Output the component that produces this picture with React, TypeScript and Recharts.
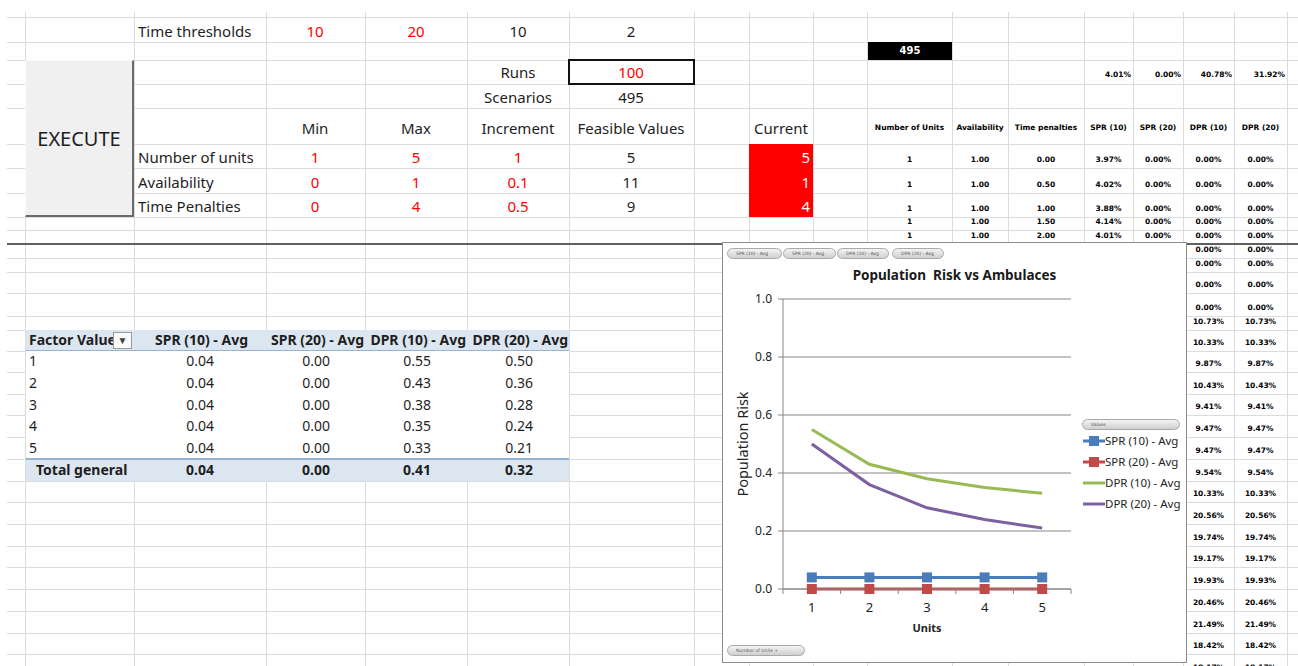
import React from "react";
import { CartesianGrid, Legend, Line, LineChart, XAxis, YAxis } from "recharts";

// chart / pivot values
const units = [1, 2, 3, 4, 5];
const spr10Avg = [0.04, 0.04, 0.04, 0.04, 0.04];
const spr20Avg = [0.0, 0.0, 0.0, 0.0, 0.0];
const dpr10Avg = [0.55, 0.43, 0.38, 0.35, 0.33];
const dpr20Avg = [0.5, 0.36, 0.28, 0.24, 0.21];
const totalGeneral = [0.04, 0.0, 0.41, 0.32];
const seriesNames = ["SPR (10) - Avg", "SPR (20) - Avg", "DPR (10) - Avg", "DPR (20) - Avg"];
const yTicks = [0, 0.2, 0.4, 0.6, 0.8, 1.0];

// input block
const thresholds = ["10", "20", "10", "2"];
const paramNames = ["Number of units", "Availability", "Time Penalties"];
const paramMin = ["1", "0", "0"];
const paramMax = ["5", "1", "4"];
const paramInc = ["1", "0.1", "0.5"];
const feasible = ["5", "11", "9"];
const current = ["5", "1", "4"];

// results table on the right
const rHeaders = ["Number of Units", "Availability", "Time penalties", "SPR (10)", "SPR (20)", "DPR (10)", "DPR (20)"];
const rTotals = ["4.01%", "0.00%", "40.78%", "31.92%"];
const rUnits = ["1", "1", "1", "1", "1"];
const rAvail = ["1.00", "1.00", "1.00", "1.00", "1.00"];
const rPenalty = ["0.00", "0.50", "1.00", "1.50", "2.00"];
const rSpr10 = ["3.97%", "4.02%", "3.88%", "4.14%", "4.01%"];
const rSpr20 = ["0.00%", "0.00%", "0.00%", "0.00%", "0.00%"];
const rDpr = ["0.00%", "0.00%", "0.00%", "0.00%", "0.00%"];
const rDprLower = ["0.00%", "0.00%", "0.00%", "0.00%", "10.73%", "10.33%", "9.87%", "10.43%", "9.41%", "9.47%", "9.47%", "9.54%", "10.33%", "20.56%", "19.74%", "19.17%", "19.93%", "20.46%", "21.49%", "18.42%", "18.17%"];

const colLines = [25, 134, 266, 365, 467, 569, 694, 749, 813, 867, 952, 1008, 1084, 1133, 1183, 1234, 1287];
const rowLines = [17, 42, 60, 84, 108, 144, 168, 193, 217, 230, 258, 272, 293, 316, 330, 351, 372, 394, 415, 437, 459, 481, 502, 524, 546, 567, 589, 611, 633, 654, 676];
const rCols = [[867, 952], [952, 1008], [1008, 1084], [1084, 1133], [1133, 1183], [1183, 1234], [1234, 1287]];

const MAIN = '"Noto Sans", "Open Sans", sans-serif';
const TINY = '"DejaVu Sans", sans-serif';
const INK = "#1e1e1e";
const RED = "#ff0000";
const AXIS = "#868686";
const colors = ["#4a7ebb", "#be4b48", "#98b954", "#7d60a0"];
const keys = ["spr10", "spr20", "dpr10", "dpr20"];
const markerKeys = ["spr10", "spr20"];

const chartData = units.map((u, i) => ({
  unit: u,
  spr10: spr10Avg[i],
  spr20: spr20Avg[i],
  dpr10: dpr10Avg[i],
  dpr20: dpr20Avg[i],
}));

type TProps = {
  x: number;
  cy: number;
  text: string;
  align?: "left" | "center" | "right";
  color?: string;
  size?: number;
  bold?: boolean;
  font?: string;
};

const T = ({ x, cy, text, align = "left", color = INK, size = 15, bold = false, font = MAIN }: TProps) => {
  const left = align === "left" ? x : align === "center" ? x - 150 : x - 300;
  return (
    <div
      style={{
        position: "absolute",
        left,
        top: cy - 12,
        width: align === "left" ? undefined : 300,
        height: 24,
        lineHeight: "24px",
        textAlign: align,
        color,
        fontSize: size,
        fontWeight: bold ? 700 : 400,
        fontFamily: font,
        whiteSpace: "nowrap",
      }}
    >
      {text}
    </div>
  );
};

const squareDot = (color: string) => (props: any) => {
  const { cx, cy, index } = props;
  return <rect key={"d" + index} x={cx - 5} y={cy - 5} width={10} height={10} fill={color} />;
};

const UnitTick = (props: any) => {
  const { x, y, payload, width, visibleTicksCount, index } = props;
  const n = visibleTicksCount || units.length;
  const half = (width || 288) / n / 2;
  return (
    <g>
      <line x1={x - half} x2={x - half} y1={y} y2={y + 5} stroke={AXIS} />
      {index === n - 1 && <line x1={x + half} x2={x + half} y1={y} y2={y + 5} stroke={AXIS} />}
      <text x={x} y={y + 18} textAnchor="middle" dominantBaseline="central" fontSize={13} fill="#222" fontFamily={MAIN}>
        {payload.value}
      </text>
    </g>
  );
};

const pill = (left: number, top: number, width: number, text: string) => (
  <div
    key={text + left}
    style={{
      position: "absolute",
      left,
      top,
      width,
      height: 11,
      borderRadius: 6,
      border: "1px solid #a9a9a9",
      background: "linear-gradient(#f4f4f4, #cfcfcf)",
      boxSizing: "border-box",
      fontSize: 4.5,
      lineHeight: "9px",
      color: "#555",
      fontFamily: TINY,
      paddingLeft: 8,
      whiteSpace: "nowrap",
      overflow: "hidden",
    }}
  >
    {text}
  </div>
);

const renderLegend = (props: any) => {
  const payload = props.payload || [];
  return (
    <div style={{ paddingLeft: 11, textAlign: "left", fontFamily: MAIN }}>
      <div style={{ position: "relative", height: 11 }}>{pill(0, 0, 98, "Values")}</div>
      {payload.map((entry: any) => (
        <div key={entry.value} style={{ height: 21, display: "flex", alignItems: "center" }}>
          <svg width={22} height={12} style={{ marginLeft: 1 }}>
            <line x1={0} x2={22} y1={6} y2={6} stroke={entry.color} strokeWidth={3} />
            {markerKeys.includes(entry.dataKey) && <rect x={6} y={1} width={10} height={10} fill={entry.color} />}
          </svg>
          <span style={{ fontSize: 11.5, color: INK, whiteSpace: "nowrap" }}>{entry.value}</span>
        </div>
      ))}
    </div>
  );
};

const Chart = () => (
  <div
    style={{
      position: "absolute",
      left: 722,
      top: 242,
      width: 465,
      height: 421,
      border: "1px solid #8d8d8d",
      boxSizing: "border-box",
      background: "#fff",
    }}
  >
    <LineChart width={463} height={419} data={chartData} margin={{ top: 56, right: 5, bottom: 43, left: 30 }}>
      <CartesianGrid vertical={false} stroke={AXIS} />
      <XAxis
        dataKey="unit"
        scale="band"
        height={30}
        interval={0}
        axisLine={{ stroke: AXIS }}
        tickLine={false}
        tickSize={0}
        tickMargin={0}
        tick={<UnitTick />}
        label={(p: any) => {
          const vb = p.viewBox;
          return (
            <text x={vb.x + vb.width / 2} y={vb.y + 38} textAnchor="middle" dominantBaseline="central" fontSize={11} fontWeight={700} fill="#222" fontFamily={MAIN}>
              Units
            </text>
          );
        }}
      />
      <YAxis
        width={30}
        domain={[0, 1]}
        ticks={yTicks}
        interval={0}
        tickFormatter={(v: number) => v.toFixed(1)}
        axisLine={{ stroke: AXIS }}
        tickLine={{ stroke: AXIS }}
        tickSize={5}
        tickMargin={6}
        tick={{ fill: "#222", fontSize: 12, fontFamily: MAIN }}
        label={(p: any) => {
          const vb = p.viewBox;
          const cx = vb.x - 11;
          const cy = vb.y + vb.height / 2;
          return (
            <text x={cx} y={cy} textAnchor="middle" dominantBaseline="central" fontSize={14.5} fill="#222" fontFamily={MAIN} transform={`rotate(-90, ${cx}, ${cy})`}>
              Population Risk
            </text>
          );
        }}
      />
      <Legend
        layout="vertical"
        align="right"
        verticalAlign="top"
        width={110}
        content={renderLegend}
        itemSorter={(item: any) => keys.indexOf(item.dataKey)}
        wrapperStyle={{ top: 176 }}
      />
      {keys.map((k, i) => (
        <Line
          key={k}
          type="linear"
          dataKey={k}
          name={seriesNames[i]}
          stroke={colors[i]}
          strokeWidth={3}
          dot={markerKeys.includes(k) ? squareDot(colors[i]) : false}
          activeDot={false}
          isAnimationActive={false}
        />
      ))}
    </LineChart>
    <div
      style={{
        position: "absolute",
        left: 0,
        top: 20,
        width: 463,
        height: 24,
        lineHeight: "24px",
        textAlign: "center",
        fontFamily: MAIN,
        fontWeight: 700,
        fontSize: 13.5,
        color: "#1a1a1a",
        whiteSpace: "pre",
      }}
    >
      {"Population  Risk vs Ambulaces"}
    </div>
    {pill(4, 5, 55, seriesNames[0])}
    {pill(60, 5, 53, seriesNames[1])}
    {pill(114, 5, 52, seriesNames[2])}
    {pill(169, 5, 52, seriesNames[3])}
    {pill(4, 402, 78, "Number of Units  +")}
  </div>
);

const Grid = () => (
  <>
    {colLines.map((x) => (
      <div key={"c" + x} style={{ position: "absolute", left: x, top: 12, width: 1, height: 654, background: "#dadcdd" }} />
    ))}
    {rowLines.map((y) => (
      <div key={"r" + y} style={{ position: "absolute", left: 7, top: y, width: 1291, height: 1, background: "#dadcdd" }} />
    ))}
    <div style={{ position: "absolute", left: 7, top: 243, width: 1291, height: 2, background: "#5f5f5f" }} />
  </>
);

const InputBlock = () => (
  <>
    <T x={138} cy={31} text="Time thresholds" />
    {thresholds.map((t, i) => (
      <T key={"th" + i} x={[315, 416, 518, 631][i]} cy={31} text={t} align="center" color={i < 2 ? RED : INK} />
    ))}
    <div style={{ position: "absolute", left: 568, top: 59, width: 127, height: 26, border: "2px solid #111", boxSizing: "border-box" }} />
    <T x={518} cy={72} text="Runs" align="center" />
    <T x={631} cy={72} text="100" align="center" color={RED} />
    <T x={518} cy={97} text="Scenarios" align="center" />
    <T x={631} cy={97} text="495" align="center" />
    {["Min", "Max", "Increment", "Feasible Values", "Current"].map((h, i) => (
      <T key={h} x={[315, 416, 518, 631, 781][i]} cy={128} text={h} align="center" />
    ))}
    <div style={{ position: "absolute", left: 749, top: 144, width: 64, height: 73, background: RED }} />
    {paramNames.map((name, i) => {
      const cy = [157, 182, 206][i];
      return (
        <React.Fragment key={name}>
          <T x={138} cy={cy} text={name} />
          <T x={315} cy={cy} text={paramMin[i]} align="center" color={RED} />
          <T x={416} cy={cy} text={paramMax[i]} align="center" color={RED} />
          <T x={518} cy={cy} text={paramInc[i]} align="center" color={RED} />
          <T x={631} cy={cy} text={feasible[i]} align="center" />
          <T x={810} cy={cy} text={current[i]} align="right" color="#fff" />
        </React.Fragment>
      );
    })}
    <div
      style={{
        position: "absolute",
        left: 25,
        top: 60,
        width: 109,
        height: 157,
        background: "#f0f0f0",
        borderTop: "1px solid #fafafa",
        borderLeft: "1px solid #fafafa",
        borderRight: "2px solid #6a6a6a",
        borderBottom: "2px solid #6a6a6a",
        boxSizing: "border-box",
        display: "flex",
        alignItems: "center",
        justifyContent: "center",
        fontFamily: MAIN,
        fontSize: 20,
        color: INK,
      }}
    >
      EXECUTE
    </div>
  </>
);

const Pivot = () => {
  const valueRight = [214, 330, 431, 533];
  const headRight = [248, 364, 466, 568];
  const rowCy = [361, 383, 405, 426, 448];
  const cols = [spr10Avg, spr20Avg, dpr10Avg, dpr20Avg];
  return (
    <>
      <div style={{ position: "absolute", left: 26, top: 330, width: 543, height: 151, background: "#fff" }} />
      <div style={{ position: "absolute", left: 26, top: 330, width: 543, height: 20, background: "#dce6f1", borderBottom: "1px solid #95b3d7" }} />
      <div style={{ position: "absolute", left: 26, top: 458, width: 543, height: 23, background: "#dce6f1", borderTop: "2px solid #95b3d7", boxSizing: "border-box" }} />
      <T x={29} cy={340} text="Factor Value" bold size={14} />
      <div style={{ position: "absolute", left: 113, top: 332, width: 19, height: 17, border: "1px solid #9a9a9a", background: "#fafafa", boxSizing: "border-box", fontSize: 10, lineHeight: "15px", textAlign: "center", color: "#444" }}>
        ▼
      </div>
      {seriesNames.map((s, i) => (
        <T key={s} x={headRight[i]} cy={340} text={s} align="right" bold size={14} />
      ))}
      {units.map((u, r) => (
        <React.Fragment key={"pr" + u}>
          <T x={29} cy={rowCy[r]} text={String(u)} size={14} />
          {cols.map((c, i) => (
            <T key={"pv" + i} x={valueRight[i]} cy={rowCy[r]} text={c[r].toFixed(2)} align="right" size={14} />
          ))}
        </React.Fragment>
      ))}
      <T x={36} cy={470} text="Total general" bold size={14} />
      {totalGeneral.map((v, i) => (
        <T key={"tg" + i} x={valueRight[i]} cy={470} text={v.toFixed(2)} align="right" bold size={14} />
      ))}
    </>
  );
};

const ResultsTable = () => {
  const upperRows = [168, 193, 217, 230, 244];
  const cells = [rUnits, rAvail, rPenalty, rSpr10, rSpr20, rDpr, rDpr];
  const lowerBottoms = rowLines.filter((y) => y > 244);
  const small = 7.5;
  return (
    <>
      <div style={{ position: "absolute", left: 868, top: 42, width: 84, height: 18, background: "#000" }} />
      <T x={910} cy={51} text="495" align="center" color="#fff" bold size={10} font={TINY} />
      {rTotals.map((v, i) => (
        <T key={"rt" + i} x={rCols[i + 3][1] - 2} cy={75} text={v} align="right" bold size={small} font={TINY} color="#000" />
      ))}
      {rHeaders.map((h, i) => (
        <T key={h} x={(rCols[i][0] + rCols[i][1]) / 2} cy={128} text={h} align="center" bold size={small} font={TINY} color="#000" />
      ))}
      {upperRows.map((b, r) =>
        cells.map((col, i) => (
          <T key={"u" + r + "-" + i} x={(rCols[i][0] + rCols[i][1]) / 2} cy={b - 8} text={col[r]} align="center" bold size={small} font={TINY} color="#000" />
        ))
      )}
      {rDprLower.map((v, r) => (
        <React.Fragment key={"l" + r}>
          <T x={(rCols[5][0] + rCols[5][1]) / 2} cy={lowerBottoms[r] - 8} text={v} align="center" bold size={small} font={TINY} color="#000" />
          <T x={(rCols[6][0] + rCols[6][1]) / 2} cy={lowerBottoms[r] - 8} text={v} align="center" bold size={small} font={TINY} color="#000" />
        </React.Fragment>
      ))}
    </>
  );
};

export default function App() {
  return (
    <div style={{ position: "absolute", left: 0, top: 0, width: 1298, height: 666, overflow: "hidden", background: "#fff" }}>
      <Grid />
      <InputBlock />
      <Pivot />
      <ResultsTable />
      <Chart />
    </div>
  );
}
